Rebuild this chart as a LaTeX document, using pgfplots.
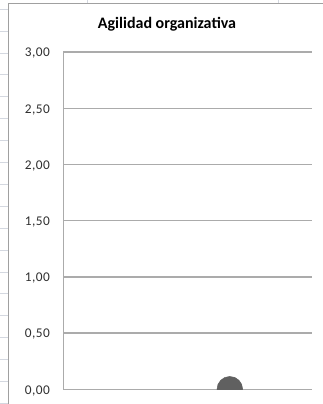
\documentclass[border=0pt]{standalone}
\usepackage{pgfplots}
\pgfplotsset{compat=1.18}
\usepackage{fontspec}
\setmainfont{Carlito}
\newfontfamily\tickfont[LetterSpace=4]{Carlito}
\definecolor{gridc}{HTML}{ABABAB}
\definecolor{framec}{HTML}{A0A0A0}
\definecolor{sheetc}{HTML}{D4D8E0}
\definecolor{markc}{HTML}{606060}
\definecolor{tickc}{HTML}{303030}
\begin{document}
\begin{tikzpicture}[x=0.75pt,y=0.75pt]
\useasboundingbox (0,0) rectangle (323,404);
\fill[white] (0,0) rectangle (323,404);
% spreadsheet background (y measured from top: 404 - y)
\foreach \yy in {9.3,31.2,53.1,75.0,96.9,118.8,140.7,162.6,184.5,206.4,228.3,250.2,272.1,294.0,315.9,337.8,359.7,381.6,403.5}
  \draw[sheetc, line width=0.75pt] (0,404-\yy) -- (7.5,404-\yy);
\draw[sheetc, line width=0.75pt] (87,404) -- (87,401);
\draw[sheetc, line width=0.75pt] (278,404) -- (278,401);
% chart frame
\draw[framec, line width=1.1pt] (8.3,0) -- (8.3,400.3) -- (323,400.3);
% title
\node[font=\bfseries\fontsize{12}{14}\selectfont, text=black, anchor=base] at (167,375) {Agilidad organizativa};
\begin{axis}[
  at={(47.475pt,11.025pt)}, anchor=origin,
  scale only axis,
  width=186.4pt, height=252.9pt,
  xmin=0, xmax=1, ymin=0, ymax=3,
  axis lines=left,
  axis line style={-, draw=gridc, line width=1.1pt},
  xtick=\empty,
  ytick={0,0.5,1,1.5,2,2.5,3},
  major tick length=0pt,
  ymajorgrids,
  grid style={draw=gridc, line width=1.1pt},
  yticklabel style={font=\tickfont\fontsize{10}{12}\selectfont, text=tickc, anchor=east, inner sep=0pt, xshift=-9.8pt, yshift=-1pt},
  /pgf/number format/assume math mode=true,
  yticklabel={\pgfmathprintnumber[fixed, fixed zerofill, precision=2, use comma]{\tick}},
  clip marker paths=true,
]
\addplot[only marks, mark=*, mark size=9.6pt, mark options={fill=markc, draw=markc}] coordinates {(0.67,0)};
\end{axis}
\end{tikzpicture}
\end{document}
